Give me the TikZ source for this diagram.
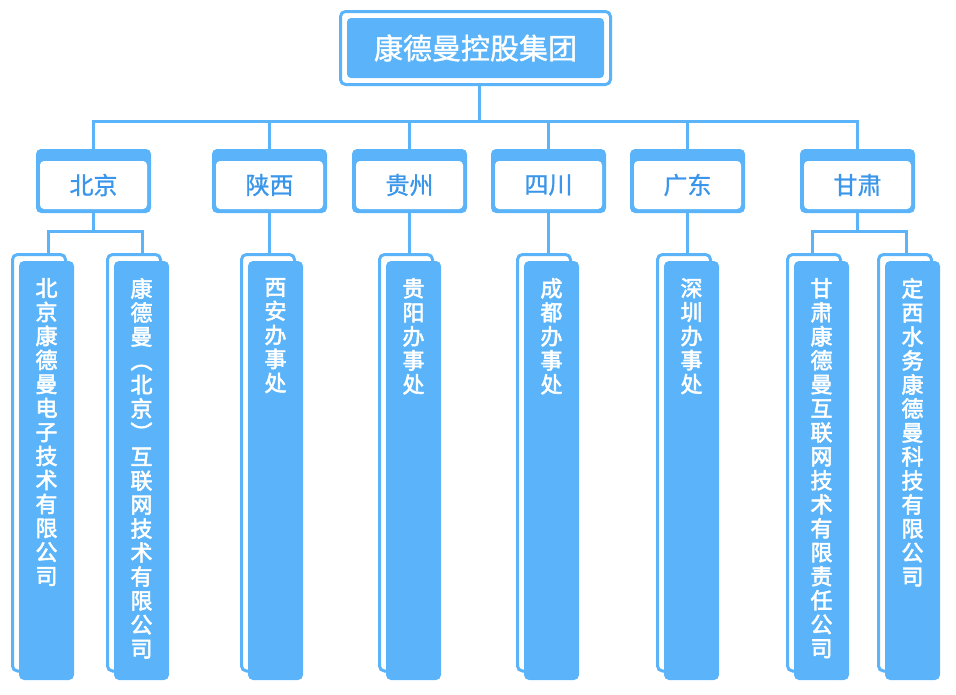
\documentclass[tikz,border=0pt]{standalone}
\usepackage{fontspec}
\setmainfont{Noto Sans CJK SC}
\newfontfamily\medfont[FakeBold=2.5]{Noto Sans CJK SC}
\newfontfamily\titlefont[FakeBold=1.3]{Noto Sans CJK SC}
\newfontfamily\provfont[FakeBold=1]{Noto Sans CJK SC}
\definecolor{kb}{HTML}{5BB4F9}
\definecolor{kt}{HTML}{3A96EA}
\begin{document}
\begin{tikzpicture}[x=1pt,y=-1pt,
  conn/.style={draw=kb,line width=3pt},
  outl/.style={draw=kb,line width=3pt,fill=white,rounded corners=5pt,inner sep=0pt,outer sep=0pt},
  topfill/.style={fill=kb,rounded corners=4pt,inner sep=0pt,outer sep=0pt,minimum width=257pt,minimum height=60pt,text=white,font=\titlefont\fontsize{29}{29}\selectfont},
  provout/.style={fill=kb,rounded corners=5pt,inner sep=0pt,outer sep=0pt,minimum width=115pt,minimum height=64pt},
  provin/.style={fill=white,rounded corners=4pt,inner sep=0pt,outer sep=0pt,minimum width=107pt,minimum height=48pt,text=kt,font=\provfont\fontsize{24}{24}\selectfont},
  leafout/.style={outl,minimum width=53pt,minimum height=416.5pt},
  leaffill/.style={fill=kb,rounded corners=5pt,inner sep=0pt,outer sep=0pt,minimum width=55pt,minimum height=419pt},
  leaftext/.style={text=white,font=\medfont\fontsize{22}{24}\selectfont,align=center,inner sep=0pt,anchor=north}]
\useasboundingbox (0,0) rectangle (956,694);

% top
\node[outl,minimum width=270pt,minimum height=73pt] (topo) at (475.5,48) {};
\node[topfill] (top) at (475.5,48) {康德曼控股集团};

% provinces
\foreach \n/\x/\t in {1/93.5/北京,2/269.5/陕西,3/409.5/贵州,4/548.5/四川,5/687.5/广东,6/857.5/甘肃}{
  \node[provout] (p\n) at (\x,181) {};
  \node[provin] (q\n) at (\x,185) {\t};
}

% leaves
\foreach \n/\X in {1/19,2/114,3/248,4/386,5/524,6/664,7/794,8/885}{
  \node[leafout] (o\n) at (\X+20,462.75) {};
  \node[leaffill] (l\n) at (\X+27.5,470.5) {};
}
\node[leaftext] (t1) at (l1.north |- 0,278) {北\\京\\康\\德\\曼\\电\\子\\技\\术\\有\\限\\公\\司};
\node[leaftext] (t2) at (l2.north |- 0,278) {康\\德\\曼\\︵\\北\\京\\︶\\互\\联\\网\\技\\术\\有\\限\\公\\司};
\node[leaftext] (t3) at (l3.north |- 0,278) {西\\安\\办\\事\\处};
\node[leaftext] (t4) at (l4.north |- 0,278) {贵\\阳\\办\\事\\处};
\node[leaftext] (t5) at (l5.north |- 0,278) {成\\都\\办\\事\\处};
\node[leaftext] (t6) at (l6.north |- 0,278) {深\\圳\\办\\事\\处};
\node[leaftext] (t7) at (l7.north |- 0,278) {甘\\肃\\康\\德\\曼\\互\\联\\网\\技\\术\\有\\限\\责\\任\\公\\司};
\node[leaftext] (t8) at (l8.north |- 0,278) {定\\西\\水\\务\\康\\德\\曼\\科\\技\\有\\限\\公\\司};

% connectors top -> provinces
\coordinate (bus) at (479,121);
\coordinate (topdrop) at (479,86);
\draw[conn] (topdrop) -- (bus);
\draw[conn] (p1.north) |- (bus);
\draw[conn] (p6.north) |- (bus);
\foreach \n in {2,3,4,5}{
  \draw[conn] (p\n.north) -- (p\n.north |- bus);
}

% Beijing branch
\coordinate (j1) at (93.5,231);
\coordinate (k1) at (48,254);
\coordinate (k2) at (142,254);
\draw[conn] (p1.south) -- (j1);
\draw[conn] (k1) |- (j1) -| (k2);

% Gansu branch
\coordinate (j6) at (857.5,231);
\coordinate (k7) at (812,254);
\coordinate (k8) at (906,254);
\draw[conn] (p6.south) -- (j6);
\draw[conn] (k7) |- (j6) -| (k8);

% offices
\foreach \n/\m in {2/3,3/4,4/5,5/6}{
  \draw[conn] (p\n.south) -- (p\n.south |- o\m.north);
}
\end{tikzpicture}
\end{document}
